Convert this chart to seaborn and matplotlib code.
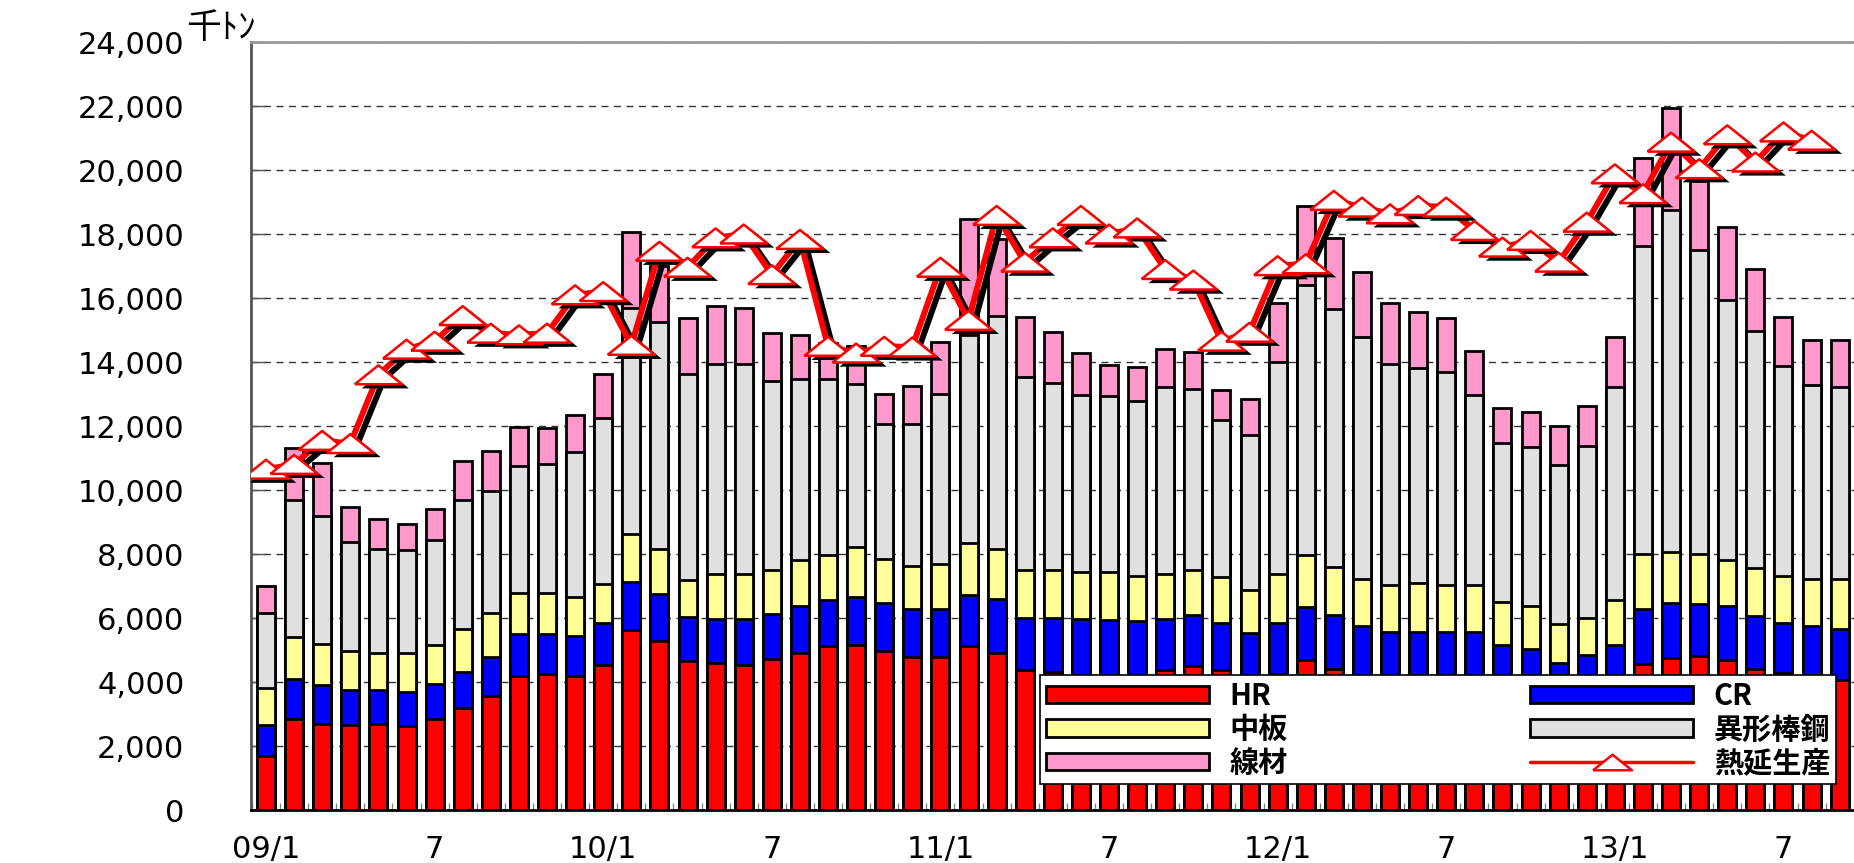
import numpy as np
import pandas as pd
import matplotlib
matplotlib.use("Agg")
import matplotlib.pyplot as plt
import matplotlib.patheffects as pe
from matplotlib.patches import Patch
from matplotlib.lines import Line2D
from matplotlib.ticker import StrMethodFormatter
import seaborn as sns

# 2009/1 - 2013/9 (千トン)
months = pd.period_range("2009-01", "2013-09", freq="M").strftime("%Y-%m").tolist()

hr = [1700, 2850, 2700, 2650, 2700, 2630, 2830, 3180, 3570, 4180,
      4250, 4190, 4520, 5620, 5290, 4650, 4580, 4520, 4720, 4910,
      5110, 5170, 4980, 4780, 4780, 5110, 4910, 4370, 4310, 4150,
      4100, 4100, 4370, 4500, 4360, 4050, 4260, 4680, 4400, 4150,
      4100, 4100, 4100, 4100, 4000, 3900, 3500, 3700, 4000, 4560,
      4760, 4810, 4700, 4410, 4290, 4150, 4050]
cr = [950, 1250, 1220, 1110, 1060, 1050, 1120, 1140, 1220, 1310,
      1250, 1260, 1320, 1520, 1450, 1370, 1400, 1460, 1420, 1480,
      1460, 1490, 1500, 1490, 1490, 1620, 1690, 1630, 1690, 1820,
      1850, 1810, 1600, 1580, 1490, 1470, 1580, 1660, 1680, 1590,
      1470, 1470, 1460, 1460, 1160, 1130, 1090, 1130, 1150, 1710,
      1700, 1640, 1680, 1640, 1560, 1590, 1620]
plate = [1150, 1320, 1280, 1220, 1160, 1240, 1210, 1330, 1360, 1290,
         1280, 1220, 1210, 1480, 1410, 1160, 1400, 1400, 1350, 1420,
         1400, 1550, 1360, 1370, 1430, 1610, 1550, 1510, 1510, 1470,
         1490, 1400, 1400, 1430, 1430, 1360, 1530, 1630, 1510, 1490,
         1470, 1530, 1470, 1470, 1350, 1350, 1220, 1160, 1420, 1730,
         1610, 1560, 1430, 1500, 1450, 1490, 1560]
rebar = [2350, 4260, 4000, 3390, 3250, 3200, 3270, 4030, 3820, 3980,
         4030, 4530, 5200, 7080, 7090, 6460, 6570, 6570, 5930, 5660,
         5500, 5090, 4230, 4430, 5310, 6500, 7290, 6030, 5820, 5530,
         5500, 5460, 5840, 5660, 4920, 4850, 6640, 8430, 8060, 7550,
         6900, 6720, 6660, 5930, 4960, 4970, 4960, 5400, 6640, 9610,
         10690, 9490, 8130, 7430, 6560, 6050, 5980]
wire = [850, 1620, 1630, 1110, 930, 830, 990, 1220, 1250, 1220,
        1140, 1130, 1380, 2350, 1760, 1740, 1810, 1750, 1500, 1380,
        1130, 1200, 940, 1170, 1630, 3640, 2400, 1860, 1600, 1310,
        980, 1070, 1210, 1130, 920, 1110, 1830, 2480, 2210, 2020,
        1890, 1740, 1670, 1370, 1100, 1100, 1230, 1240, 1570, 2750,
        3170, 2150, 2270, 1930, 1560, 1410, 1480]
# 熱延生産 (2013/8まで)
hot_rolled = [10650, 10800, 11550, 11450, 13600, 14400, 14650, 15450, 14900, 14850,
              14900, 16100, 16200, 14520, 17460, 16960, 17880, 18000, 16730, 17830,
              14490, 14280, 14490, 14470, 16960, 15300, 18580, 17120, 17880, 18580,
              18000, 18190, 16890, 16560, 14650, 14930, 17010, 17070, 19050, 18840,
              18630, 18890, 18840, 18110, 17590, 17800, 17120, 18370, 19880, 19260,
              20870, 20040, 21100, 20250, 21190, 20930]

tick_labels = ["09/1", "7", "10/1", "7", "11/1", "7", "12/1", "7", "13/1", "7"]

layers = ["HR", "CR", "中板", "異形棒鋼", "線材"]
colors = {"HR": "#FF0000", "CR": "#0000FF", "中板": "#FFFF99",
          "異形棒鋼": "#E0E0E0", "線材": "#FF99CC"}

df = pd.DataFrame({"month": months, "HR": hr, "CR": cr, "中板": plate,
                   "異形棒鋼": rebar, "線材": wire})
cum = df[layers].cumsum(axis=1)

sns.set_style("white")
plt.rcParams["font.family"] = ["Noto Sans CJK JP", "DejaVu Sans"]
plt.rcParams["text.color"] = "black"

fig = plt.figure(figsize=(18.54, 8.63), dpi=100)
ax = fig.add_axes([251 / 1854, 1 - 810 / 863, 1603 / 1854, 768 / 863])

# stacked bars: draw cumulative totals from the top layer down
for name in reversed(layers):
    sns.barplot(x=df["month"], y=cum[name], color=colors[name], saturation=1,
                edgecolor="black", linewidth=2, width=0.64, errorbar=None, ax=ax)

# 熱延生産 line with shadow
tri = [(-1.0, -0.4), (1.0, -0.4), (0.0, 0.4), (-1.0, -0.4)]
xs = np.arange(len(hot_rolled))
sns.lineplot(x=xs, y=hot_rolled, color="#FF0000", linewidth=4.3, ax=ax, zorder=3,
             path_effects=[pe.SimpleLineShadow(offset=(4, -3), shadow_color="black", alpha=1),
                           pe.Normal()])
ax.plot(xs, hot_rolled, linestyle="none", marker=tri, markersize=34,
        markerfacecolor="white", markeredgecolor="#FF0000", markeredgewidth=1.8, zorder=4,
        path_effects=[pe.SimplePatchShadow(offset=(5, -3), shadow_rgbFace="black", alpha=1),
                      pe.Normal()])

ax.set_xlim(-0.534, 56.51)
ax.set_ylim(0, 24000)
ax.set_yticks(np.arange(0, 24001, 2000))
ax.yaxis.set_major_formatter(StrMethodFormatter("{x:,.0f}"))
ax.set_xticks(np.arange(0, len(months), 6))
ax.set_xticklabels(tick_labels)
ax.set_xticks(np.arange(-0.5, len(months), 1), minor=True)
ax.set_xlabel("")
ax.set_ylabel("")

ax.yaxis.grid(True, linestyle=(0, (5, 4)), color="#333333", linewidth=1)
ax.xaxis.grid(False)
ax.set_axisbelow(True)

ax.tick_params(axis="y", direction="in", length=10, width=1, color="#555555",
               pad=48, labelsize=22, left=True, labelcolor="black",
               labelfontfamily="DejaVu Sans")
ax.tick_params(axis="x", which="major", length=0, pad=18, labelsize=22,
               labelcolor="black", labelfontfamily="DejaVu Sans")
ax.tick_params(axis="x", which="minor", direction="in", length=5, width=1,
               color="#888888", bottom=True)

ax.spines["right"].set_visible(False)
ax.spines["top"].set_color("#999999")
ax.spines["top"].set_linewidth(2)
ax.spines["left"].set_color("#555555")
ax.spines["left"].set_linewidth(2)
ax.spines["bottom"].set_color("black")
ax.spines["bottom"].set_linewidth(2)

fig.text(186 / 1854, 1 - 38 / 863, "千ﾄﾝ", fontsize=25, ha="left", va="baseline",
         color="black")

# legend
order = ["HR", "中板", "線材", "CR", "異形棒鋼"]
handles = [Patch(facecolor=colors[n], edgecolor="black", linewidth=2) for n in order]
handles.append(Line2D([], [], color="#FF0000", linewidth=2.5, marker=tri, markersize=28,
                      markerfacecolor="white", markeredgecolor="#FF0000", markeredgewidth=1.8))
labels = order + ["熱延生産"]
leg = ax.legend(handles, labels, ncol=2, mode="expand", loc="upper left",
                bbox_to_anchor=(1040 / 1854, 1 - 773 / 863, 796 / 1854, 98 / 863),
                bbox_transform=fig.transFigure,
                prop={"family": ["Noto Sans CJK JP", "DejaVu Sans"], "size": 21,
                      "weight": "bold"},
                handlelength=5.6, handleheight=0.55, handletextpad=0.7,
                labelspacing=0.12, borderpad=0.2, borderaxespad=0, frameon=True,
                fancybox=False, framealpha=1, edgecolor="black")
leg.get_frame().set_linewidth(1.2)
leg.set_zorder(6)
for t in leg.get_texts():
    t.set_color("black")

fig.savefig("out.png", dpi=100)
